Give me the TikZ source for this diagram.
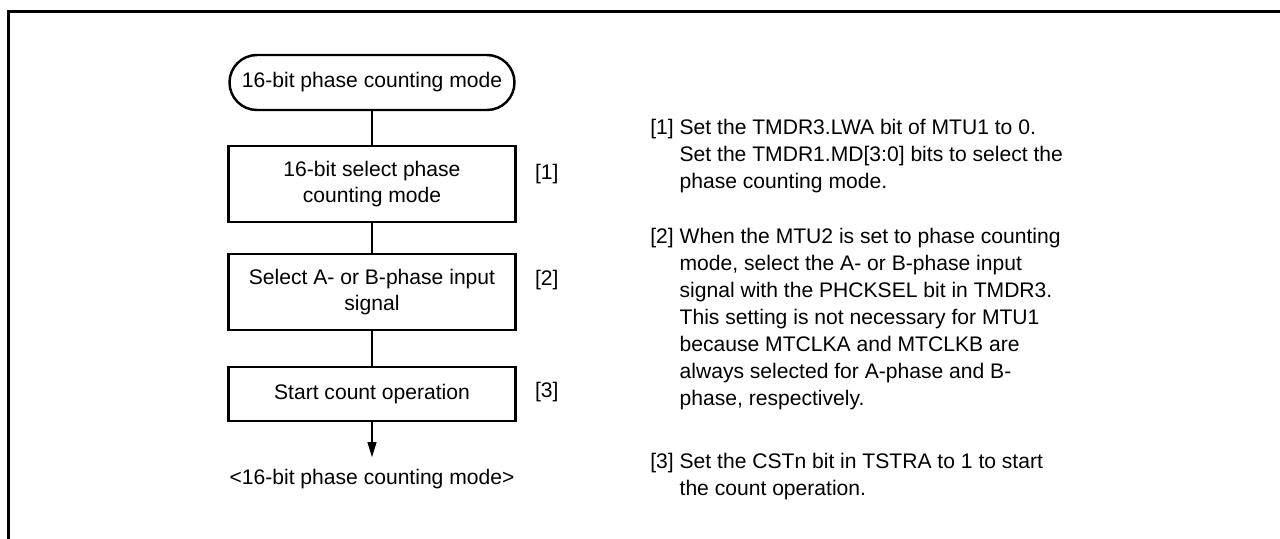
\documentclass[tikz,border=0pt]{standalone}
\usepackage{fontspec}
\setmainfont{Liberation Sans}
\usetikzlibrary{positioning,arrows.meta}

\begin{document}
\begin{tikzpicture}[
    termStyle/.style={
        rectangle, rounded corners=5.5mm, draw=black, line width=1.4pt,
        minimum width=5.7cm, minimum height=1.1cm, inner sep=0pt, align=center,
        font=\fontsize{12pt}{14.8pt}\selectfont
    },
    boxStyle/.style={
        rectangle, draw=black, line width=1.4pt, minimum width=5.74cm,
        inner sep=0pt, align=center, font=\fontsize{12pt}{14.8pt}\selectfont
    },
    numStyle/.style={font=\fontsize{12pt}{14.8pt}\selectfont, inner sep=0pt},
    noteStyle/.style={
        font=\fontsize{12pt}{15.3pt}\selectfont, align=left, inner sep=0pt, anchor=base west
    },
    lineStyle/.style={line width=0.6pt},
    arrowStyle/.style={-{Triangle[length=3mm,width=1.8mm]}, line width=0.6pt}
]
    \useasboundingbox (0,0) rectangle (25.6,-10.76);

    % Frame
    \draw[line width=1.7pt] (0.17,-11) -- (0.17,-0.23) -- (26,-0.23);

    % Flow
    \node[termStyle] (term) at (7.44,-1.65) {16-bit phase counting mode};
    \node[boxStyle, minimum height=1.52cm, below=0.67cm of term] (box1) {16-bit select phase\\counting mode};
    \node[boxStyle, minimum height=1.52cm, below=0.59cm of box1] (box2) {Select A- or B-phase input\\signal};
    \node[boxStyle, minimum height=1.08cm, below=0.69cm of box2] (box3) {Start count operation};
    \coordinate[below=0.7cm of box3] (outEnd);
    \node[numStyle, below=0.44cm of outEnd, anchor=center] (outLabel) {<16-bit phase counting mode>};

    \draw[lineStyle] (term) -- (box1);
    \draw[lineStyle] (box1) -- (box2);
    \draw[lineStyle] (box2) -- (box3);
    \draw[arrowStyle] (box3) -- (outEnd);

    % Step numbers
    \node[numStyle, right=0.6cm of box1.east, anchor=center, yshift=0.19cm] (num1) {[1]};
    \node[numStyle, right=0.6cm of box2.east, anchor=center, yshift=0.23cm] (num2) {[2]};
    \node[numStyle, right=0.6cm of box3.east, anchor=center, yshift=0.04cm] (num3) {[3]};

    % Notes (base = last line)
    \node[noteStyle] (note1) at (13.0,-3.76) {
        [1] Set the TMDR3.LWA bit of MTU1 to 0.\\
        \hphantom{[1] }Set the TMDR1.MD[3:0] bits to select the\\
        \hphantom{[1] }phase counting mode.
    };
    \node[noteStyle] (note2) at (13.0,-8.1) {
        [2] When the MTU2 is set to phase counting\\
        \hphantom{[2] }mode, select the A- or B-phase input\\
        \hphantom{[2] }signal with the PHCKSEL bit in TMDR3.\\
        \hphantom{[2] }This setting is not necessary for MTU1\\
        \hphantom{[2] }because MTCLKA and MTCLKB are\\
        \hphantom{[2] }always selected for A-phase and B-\\
        \hphantom{[2] }phase, respectively.
    };
    \node[noteStyle] (note3) at (13.0,-9.9) {
        [3] Set the CSTn bit in TSTRA to 1 to start\\
        \hphantom{[3] }the count operation.
    };
\end{tikzpicture}
\end{document}
